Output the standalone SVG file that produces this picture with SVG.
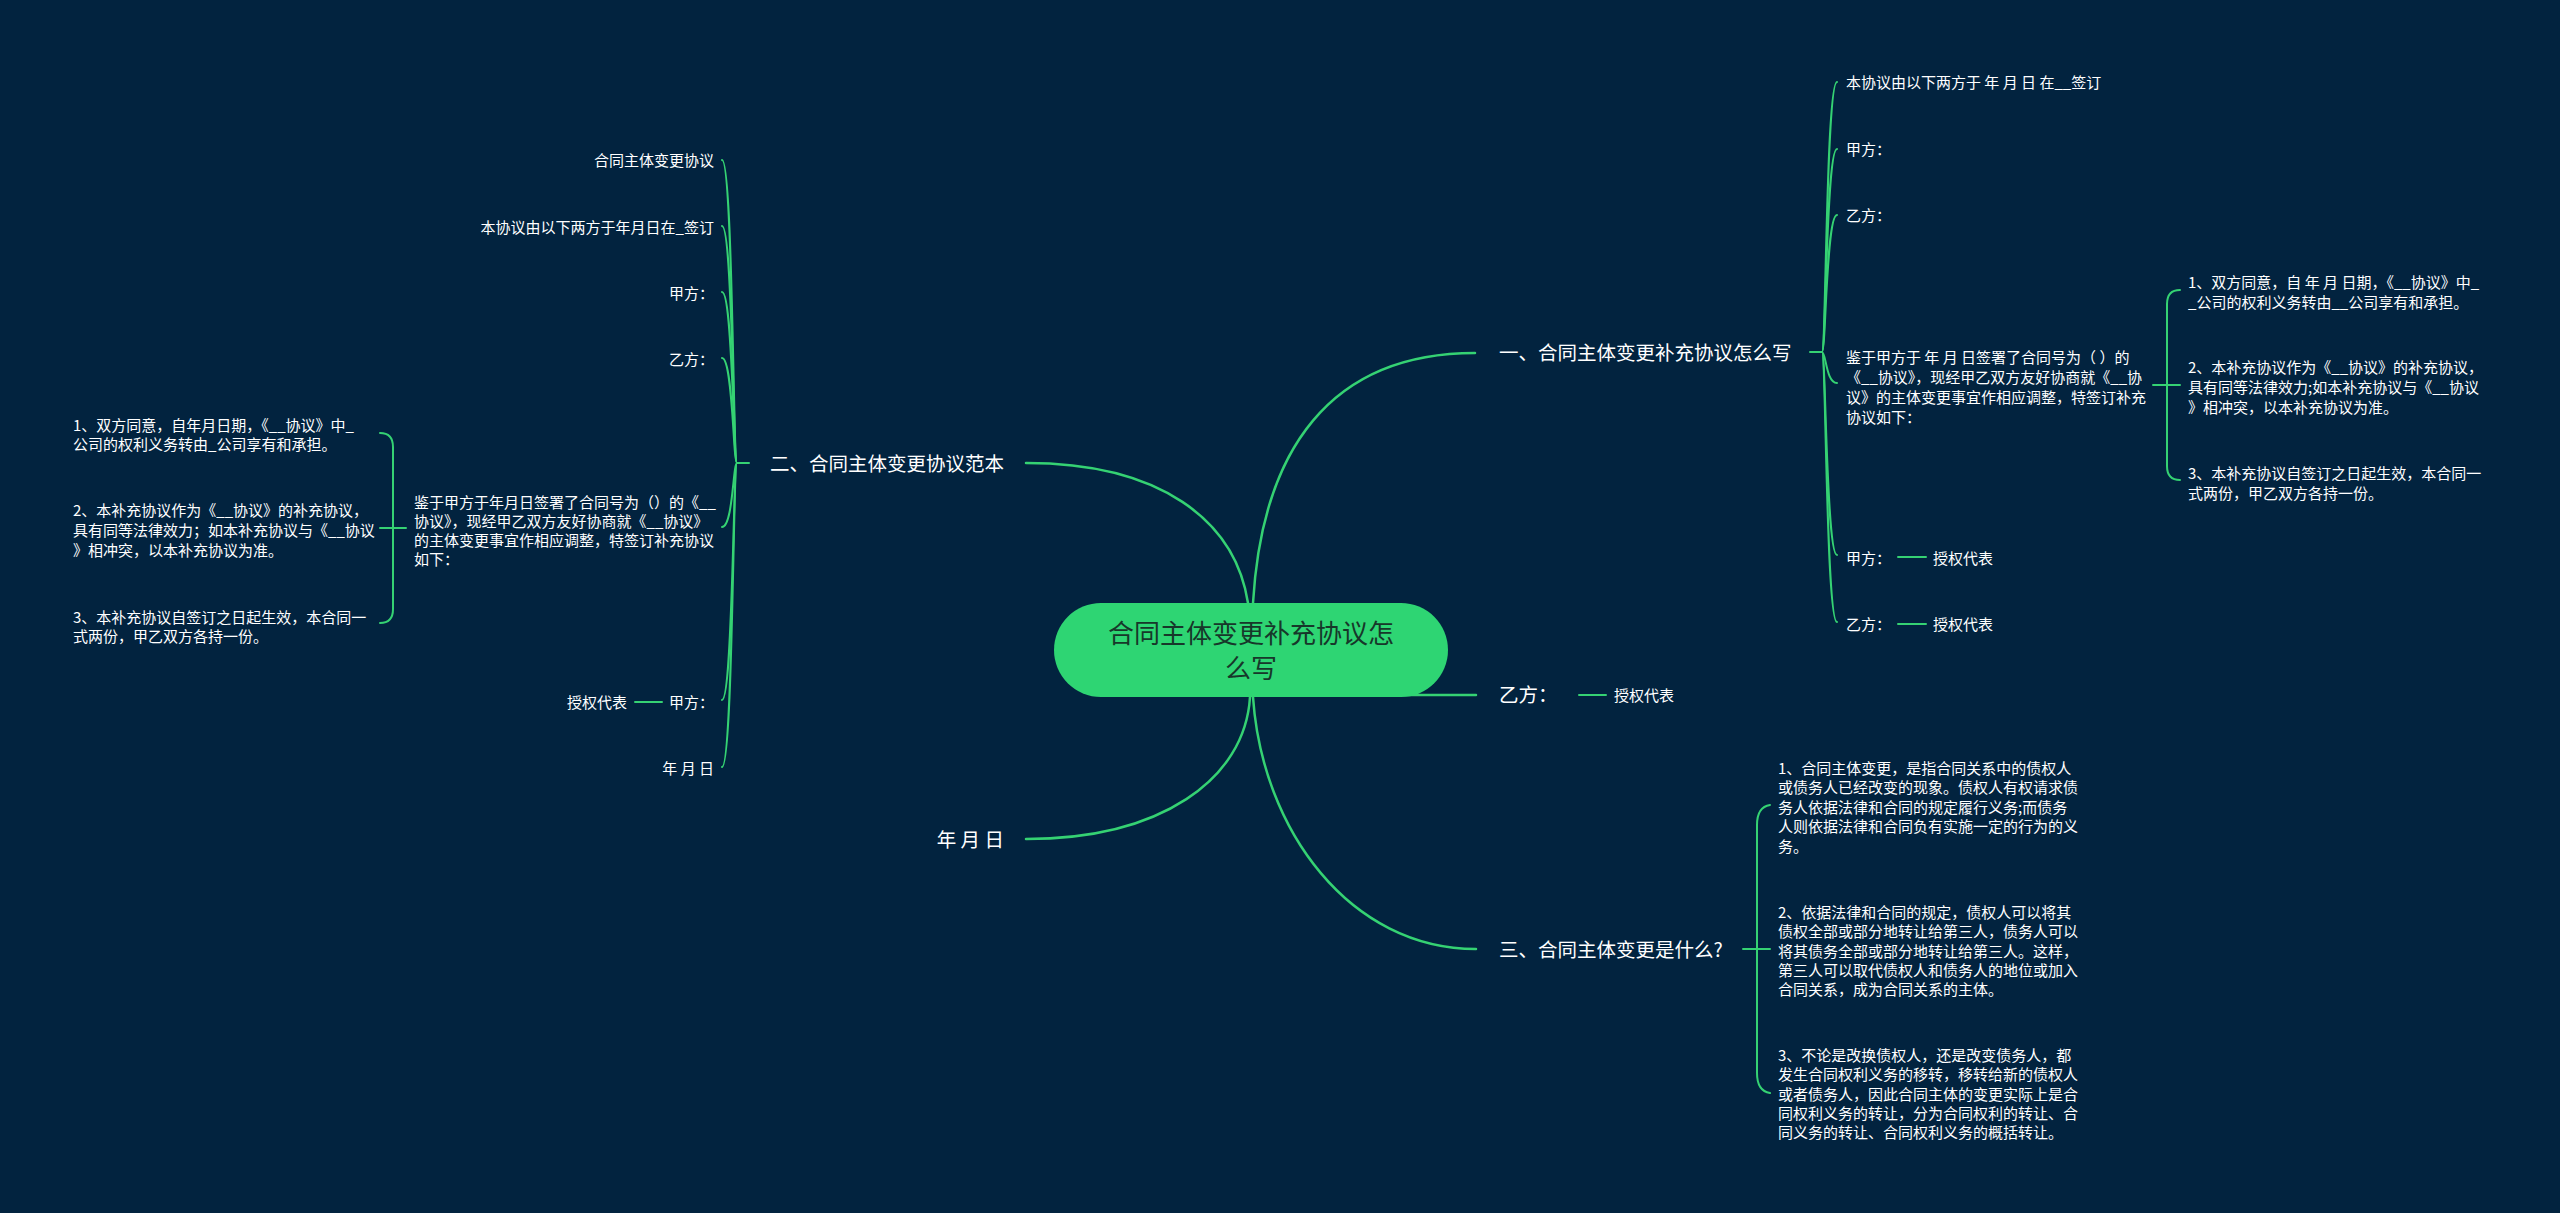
<svg xmlns="http://www.w3.org/2000/svg" width="2560" height="1213" viewBox="0 0 2560 1213">
<style>
.l1{fill:none;stroke:#35d273;stroke-width:2.5;stroke-linecap:round}
.l2{fill:none;stroke:#35d273;stroke-width:2;stroke-linecap:round}
text{font-family:"Noto Sans CJK SC","Noto Sans",sans-serif;fill:#ffffff}
.s15{font-size:15px}
.s19{font-size:19.5px}
.c{font-size:26px;fill:#17372a;text-anchor:middle}
.e{text-anchor:end}
</style>
<rect width="2560" height="1213" fill="#02233f"/>
<g id="connectors">
  <!-- main branches -->
  <path class="l1" d="M1253,603 C1262,450 1330,353 1475,353"/>
  <path class="l1" d="M1026,463 C1160,463 1235,520 1248,603"/>
  <path class="l1" d="M1026,839 C1160,839 1245,780 1250,697"/>
  <path class="l1" d="M1253,697 C1262,830 1350,949 1476,949"/>
  <path class="l1" d="M1300,695 L1476,695"/>
  <path class="l2" d="M1579,695 L1606,695"/>
  <!-- branch 一 children -->
  <path class="l2" d="M1810,352 L1822,352"/>
  <path class="l2" d="M1822,352 C1826,352 1826,82 1837,82"/>
  <path class="l2" d="M1822,352 C1826,352 1826,149 1837,149"/>
  <path class="l2" d="M1822,352 C1826,352 1826,215 1837,215"/>
  <path class="l2" d="M1822,352 C1826,352 1826,383 1837,383"/>
  <path class="l2" d="M1822,352 C1826,352 1826,555 1837,555"/>
  <path class="l2" d="M1822,352 C1826,352 1826,622 1837,622"/>
  <path class="l2" d="M1898,557 L1926,557"/>
  <path class="l2" d="M1898,624 L1926,624"/>
  <!-- right 鉴于 bracket -->
  <path class="l2" d="M2153,385 L2180,385"/>
  <path class="l2" d="M2180,290 Q2167,290 2167,304 L2167,466 Q2167,480 2180,480"/>
  <!-- branch 二 children -->
  <path class="l2" d="M749,463 L737,463"/>
  <path class="l2" d="M737,463 C733,463 733,160 722,160"/>
  <path class="l2" d="M737,463 C733,463 733,226 722,226"/>
  <path class="l2" d="M737,463 C733,463 733,292 722,292"/>
  <path class="l2" d="M737,463 C733,463 733,358 722,358"/>
  <path class="l2" d="M737,463 C733,463 733,527 722,527"/>
  <path class="l2" d="M737,463 C733,463 733,700 722,700"/>
  <path class="l2" d="M737,463 C733,463 733,767 722,767"/>
  <path class="l2" d="M635,702 L662,702"/>
  <!-- left 鉴于 bracket -->
  <path class="l2" d="M406,528 L380,528"/>
  <path class="l2" d="M380,433 Q393,433 393,447 L393,609 Q393,623 380,623"/>
  <!-- branch 三 bracket -->
  <path class="l2" d="M1743,949 L1770,949"/>
  <path class="l2" d="M1770,805 Q1757,807 1757,825 L1757,1073 Q1757,1091 1770,1093"/>
</g>
<g id="center">
  <rect x="1054" y="603" width="394" height="94" rx="47" fill="#2ed573"/>
  <text class="c" x="1251" y="643">合同主体变更补充协议怎</text>
  <text class="c" x="1251" y="678">么写</text>
</g>
<g id="b1">
  <text class="s19" x="1499" y="360">一、合同主体变更补充协议怎么写</text>
</g>
<g id="b1-1"><text class="s15" x="1846" y="88">本协议由以下两方于 年 月 日 在__签订</text></g>
<g id="b1-2"><text class="s15" x="1846" y="155">甲方：</text></g>
<g id="b1-3"><text class="s15" x="1846" y="221">乙方：</text></g>
<g id="b1-4">
  <text class="s15" x="1846" y="363">鉴于甲方于 年 月 日签署了合同号为（ ）的</text>
  <text class="s15" x="1846" y="383">《__协议》，现经甲乙双方友好协商就《__协</text>
  <text class="s15" x="1846" y="403">议》的主体变更事宜作相应调整，特签订补充</text>
  <text class="s15" x="1846" y="423">协议如下：</text>
</g>
<g id="b1-4-1">
  <text class="s15" x="2188" y="288">1、双方同意，自 年 月 日期，《__协议》中_</text>
  <text class="s15" x="2188" y="308">_公司的权利义务转由__公司享有和承担。</text>
</g>
<g id="b1-4-2">
  <text class="s15" x="2188" y="373">2、本补充协议作为《__协议》的补充协议，</text>
  <text class="s15" x="2188" y="393">具有同等法律效力;如本补充协议与《__协议</text>
  <text class="s15" x="2188" y="413">》相冲突，以本补充协议为准。</text>
</g>
<g id="b1-4-3">
  <text class="s15" x="2188" y="479">3、本补充协议自签订之日起生效，本合同一</text>
  <text class="s15" x="2188" y="499">式两份，甲乙双方各持一份。</text>
</g>
<g id="b1-5"><text class="s15" x="1846" y="564">甲方：</text></g>
<g id="b1-5-1"><text class="s15" x="1933" y="564">授权代表</text></g>
<g id="b1-6"><text class="s15" x="1846" y="630">乙方：</text></g>
<g id="b1-6-1"><text class="s15" x="1933" y="630">授权代表</text></g>
<g id="b2">
  <text class="s19 e" x="1004" y="471">二、合同主体变更协议范本</text>
</g>
<g id="b2-1"><text class="s15 e" x="714" y="166">合同主体变更协议</text></g>
<g id="b2-2"><text class="s15 e" x="714" y="233">本协议由以下两方于年月日在_签订</text></g>
<g id="b2-3"><text class="s15 e" x="714" y="299">甲方：</text></g>
<g id="b2-4"><text class="s15 e" x="714" y="365">乙方：</text></g>
<g id="b2-5">
  <text class="s15" x="414" y="508">鉴于甲方于年月日签署了合同号为（）的《__</text>
  <text class="s15" x="414" y="527">协议》，现经甲乙双方友好协商就《__协议》</text>
  <text class="s15" x="414" y="546">的主体变更事宜作相应调整，特签订补充协议</text>
  <text class="s15" x="414" y="565">如下：</text>
</g>
<g id="b2-5-1">
  <text class="s15" x="73" y="431">1、双方同意，自年月日期，《__协议》中_</text>
  <text class="s15" x="73" y="450">公司的权利义务转由_公司享有和承担。</text>
</g>
<g id="b2-5-2">
  <text class="s15" x="73" y="516">2、本补充协议作为《__协议》的补充协议，</text>
  <text class="s15" x="73" y="536">具有同等法律效力；如本补充协议与《__协议</text>
  <text class="s15" x="73" y="556">》相冲突，以本补充协议为准。</text>
</g>
<g id="b2-5-3">
  <text class="s15" x="73" y="623">3、本补充协议自签订之日起生效，本合同一</text>
  <text class="s15" x="73" y="642">式两份，甲乙双方各持一份。</text>
</g>
<g id="b2-6"><text class="s15 e" x="714" y="708">甲方：</text></g>
<g id="b2-6-1"><text class="s15 e" x="627" y="708">授权代表</text></g>
<g id="b2-7"><text class="s15 e" x="714" y="774">年 月 日</text></g>
<g id="b3"><text class="s19" x="1499" y="702">乙方：</text></g>
<g id="b3-1"><text class="s15" x="1614" y="701">授权代表</text></g>
<g id="b4"><text class="s19 e" x="1004" y="847">年 月 日</text></g>
<g id="b5"><text class="s19" x="1499" y="957">三、合同主体变更是什么?</text></g>
<g id="b5-1">
  <text class="s15" x="1778" y="774">1、合同主体变更，是指合同关系中的债权人</text>
  <text class="s15" x="1778" y="793">或债务人已经改变的现象。债权人有权请求债</text>
  <text class="s15" x="1778" y="813">务人依据法律和合同的规定履行义务;而债务</text>
  <text class="s15" x="1778" y="832">人则依据法律和合同负有实施一定的行为的义</text>
  <text class="s15" x="1778" y="852">务。</text>
</g>
<g id="b5-2">
  <text class="s15" x="1778" y="918">2、依据法律和合同的规定，债权人可以将其</text>
  <text class="s15" x="1778" y="937">债权全部或部分地转让给第三人，债务人可以</text>
  <text class="s15" x="1778" y="957">将其债务全部或部分地转让给第三人。这样，</text>
  <text class="s15" x="1778" y="976">第三人可以取代债权人和债务人的地位或加入</text>
  <text class="s15" x="1778" y="995">合同关系，成为合同关系的主体。</text>
</g>
<g id="b5-3">
  <text class="s15" x="1778" y="1061">3、不论是改换债权人，还是改变债务人，都</text>
  <text class="s15" x="1778" y="1080">发生合同权利义务的移转，移转给新的债权人</text>
  <text class="s15" x="1778" y="1100">或者债务人，因此合同主体的变更实际上是合</text>
  <text class="s15" x="1778" y="1119">同权利义务的转让，分为合同权利的转让、合</text>
  <text class="s15" x="1778" y="1138">同义务的转让、合同权利义务的概括转让。</text>
</g>
</svg>
